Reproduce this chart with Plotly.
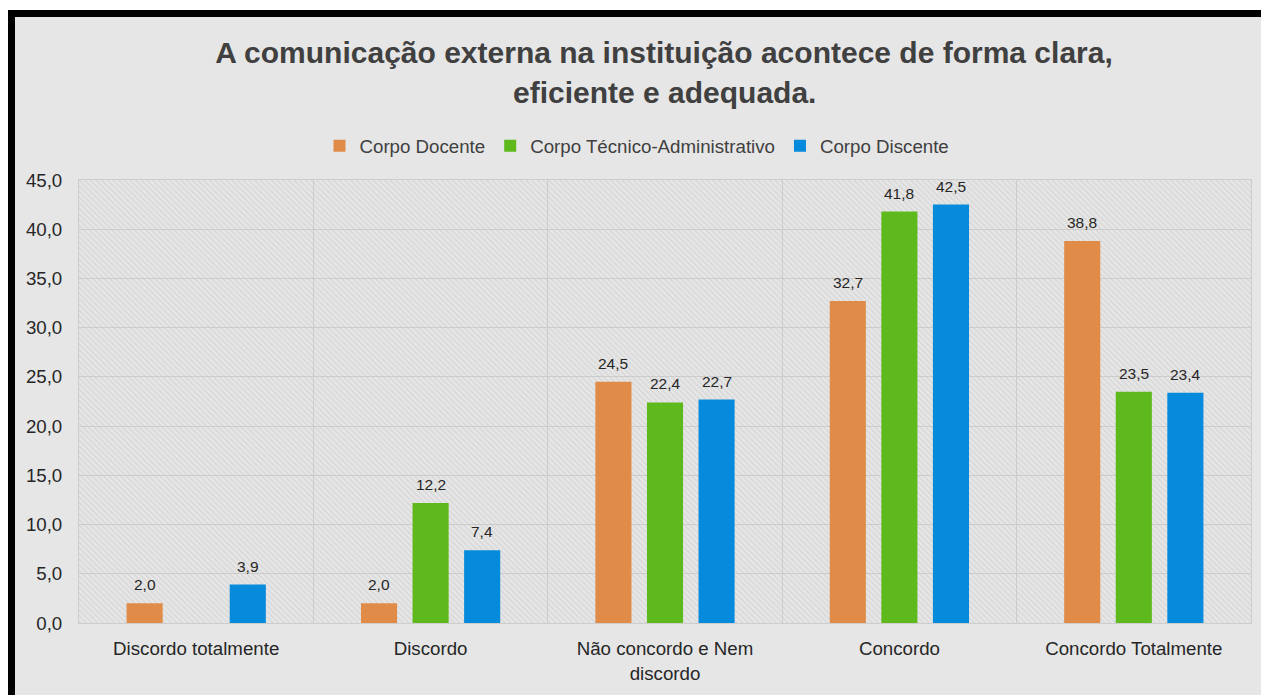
import plotly.graph_objects as go

categories = ["Discordo totalmente", "Discordo", "Não concordo e Nem<br>discordo", "Concordo", "Concordo Totalmente"]
series_names = ["Corpo Docente", "Corpo Técnico-Administrativo", "Corpo Discente"]
docente = [2.0, 2.0, 24.5, 32.7, 38.8]
tecnico = [None, 12.2, 22.4, 41.8, 23.5]
discente = [3.9, 7.4, 22.7, 42.5, 23.4]
y_ticks = [0, 5, 10, 15, 20, 25, 30, 35, 40, 45]
title_lines = ["A comunicação externa na instituição acontece de forma clara,", "eficiente e adequada."]

colors = ["#E08C48", "#5DB91C", "#058ADC"]
FONT = "Liberation Sans, Arial, sans-serif"

# page has an 8px body margin
OFF = 8
W, H = 1269 - OFF, 695 - OFF
L, R, T, B = 71, 18, 172, 72
pw, ph = W - L - R, H - T - B

def px_x(page_x):
    return (page_x - OFF - L) / pw

def px_y(page_y):
    return (H - B - (page_y - OFF)) / ph

fig = go.Figure()

# hatched plot-area background
fig.add_trace(go.Bar(
    x=categories, y=[y_ticks[-1]] * len(categories), width=1, offset=-0.5,
    marker=dict(color="rgba(0,0,0,0)", line=dict(width=0),
                pattern=dict(shape="\\", fgcolor="#c4c4c4", bgcolor="rgba(0,0,0,0)",
                             size=4, solidity=0.3)),
    showlegend=False, hoverinfo="skip",
))

bar_w = 0.154
step = 0.22
cat_px = pw / len(categories)
label_annotations = []
all_series = [docente, tecnico, discente]
for i, (name, vals, col) in enumerate(zip(series_names, all_series, colors)):
    fig.add_trace(go.Bar(
        name=name, x=categories, y=vals, width=bar_w,
        offset=(i - 1) * step - bar_w / 2,
        marker=dict(color=col, line=dict(width=0)),
    ))
    for cat, v in zip(categories, vals):
        if v is None:
            continue
        label_annotations.append(dict(
            x=cat, y=v, xref="x", yref="y", text=f"{v:.1f}".replace(".", ","),
            showarrow=False, xanchor="center", yanchor="bottom",
            xshift=(i - 1) * step * cat_px, yshift=8,
            font=dict(family=FONT, size=15.5, color="#262626")))

fig.update_layout(
    width=W, height=H,
    barmode="overlay",
    separators=",.",
    paper_bgcolor="white",
    plot_bgcolor="#e4e4e4",
    margin=dict(l=L, r=R, t=T, b=B, autoexpand=False),
    title=dict(text="<b>" + title_lines[0] + "</b>", x=px_x(664), xref="paper",
               xanchor="center", y=1 - (52 - OFF) / H, yref="container", yanchor="middle",
               font=dict(family=FONT, size=30, color="#404040")),
    legend=dict(orientation="h", x=px_x(637), xanchor="center", y=px_y(146), yanchor="middle",
                font=dict(family=FONT, size=18.7, color="#404040"),
                bgcolor="rgba(0,0,0,0)", itemwidth=30, traceorder="normal"),
    font=dict(family=FONT, color="#262626"),
    shapes=[dict(type="rect", xref="paper", yref="paper",
                 x0=px_x(11.5), x1=px_x(1269 + 30), y0=px_y(13.5), y1=px_y(695 + 30),
                 fillcolor="#e6e6e6", line=dict(color="black", width=7), layer="below")],
    annotations=[dict(text="<b>" + title_lines[1] + "</b>", xref="paper", yref="paper",
                      x=px_x(664), y=px_y(92), xanchor="center", yanchor="middle",
                      showarrow=False, font=dict(family=FONT, size=30, color="#404040"))]
                + label_annotations,
)

fig.update_xaxes(type="category", range=[-0.5, len(categories) - 0.5],
                 tickson="boundaries", showgrid=True, gridcolor="#cdcdcd", gridwidth=1,
                 ticks="", showline=True, mirror=True, linecolor="#cdcdcd",
                 ticklabelstandoff=9,
                 tickfont=dict(family=FONT, size=18.7, color="#262626"))
fig.update_yaxes(range=[0, y_ticks[-1]], tickvals=y_ticks, tickformat=".1f",
                 showgrid=True, gridcolor="#cdcdcd", gridwidth=1, zeroline=False,
                 showline=True, mirror=True, linecolor="#cdcdcd", ticks="",
                 ticklabelstandoff=12,
                 tickfont=dict(family=FONT, size=18.7, color="#262626"))

fig.write_html("out.html")
